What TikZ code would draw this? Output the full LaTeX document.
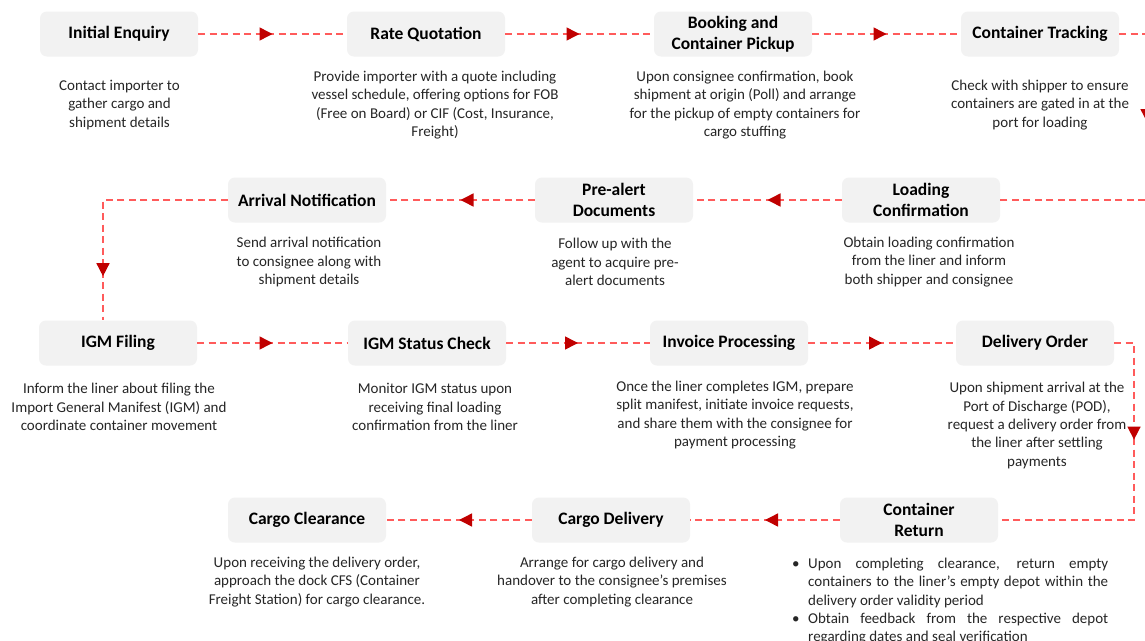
\documentclass[tikz,border=0pt]{standalone}
\usepackage{fontspec}
\setmainfont{Carlito}
\usetikzlibrary{arrows.meta,decorations.markings}
\definecolor{boxgray}{HTML}{F2F2F2}
\definecolor{flowred}{HTML}{FF5B5B}
\definecolor{tipred}{HTML}{C00000}
\definecolor{bodytext}{HTML}{262626}
\begin{document}
\begin{tikzpicture}[x=1pt, y=-1pt,
  stepbox/.style={fill=boxgray, rounded corners=7pt, minimum width=158pt, minimum height=45pt,
    align=center, inner sep=2pt, font=\fontsize{17.5}{21}\selectfont\bfseries},
  desc/.style={align=center, text=bodytext, inner sep=0pt, font=\fontsize{15}{18.3}\selectfont},
  flow/.style={draw=flowred, line width=1.5pt, dash pattern=on 7pt off 4.5pt,
    postaction={decorate}, decoration={markings,
    mark=at position #1 with {\arrow{Triangle[length=13pt,width=13pt,color=tipred]}}}},
  flow/.default=0.5]
  \useasboundingbox (0,0) rectangle (1145,640);
  \clip (0,0) rectangle (1145,640);
  \fill[white] (0,0) rectangle (1145,640);

  \node[stepbox] (enq) at (119,34) {Initial Enquiry};
  \node[stepbox] (rate) at (426,34) {Rate Quotation};
  \node[stepbox] (book) at (733,34) {Booking and\\Container Pickup};
  \node[stepbox] (track) at (1040,34) {Container Tracking};
  \node[desc] (enqd) at (119.5,105) {Contact importer to\\gather cargo and\\shipment details};
  \node[desc] (rated) at (435,105) {Provide importer with a quote including\\vessel schedule, offering options for FOB\\(Free on Board) or CIF (Cost, Insurance,\\Freight)};
  \node[desc] (bookd) at (745,105) {Upon consignee confirmation, book\\shipment at origin (Poll) and arrange\\for the pickup of empty containers for\\cargo stuffing};
  \node[desc] (trackd) at (1040,105) {Check with shipper to ensure\\containers are gated in at the\\port for loading};

  \node[stepbox] (arr) at (307,200) {Arrival Notification};
  \node[stepbox] (pre) at (614,200) {Pre-alert\\Documents};
  \node[stepbox] (load) at (921,200) {Loading\\Confirmation};
  \node[desc] (arrd) at (309,262) {Send arrival notification\\to consignee along with\\shipment details};
  \node[desc] (pred) at (615,262) {Follow up with the\\agent to acquire pre-\\alert documents};
  \node[desc] (loadd) at (929,262) {Obtain loading confirmation\\from the liner and inform\\both shipper and consignee};

  \node[stepbox] (igm) at (118,343) {IGM Filing};
  \node[stepbox] (igmst) at (427,343) {IGM Status Check};
  \node[stepbox] (inv) at (729,343) {Invoice Processing};
  \node[stepbox] (dord) at (1035,343) {Delivery Order};
  \node[desc] (igmd) at (119,407) {Inform the liner about filing the\\Import General Manifest (IGM) and\\coordinate container movement};
  \node[desc] (igmstd) at (435,407) {Monitor IGM status upon\\receiving final loading\\confirmation from the liner};
  \node[desc] (invd) at (735,415) {Once the liner completes IGM, prepare\\split manifest, initiate invoice requests,\\and share them with the consignee for\\payment processing};
  \node[desc] (dordd) at (1037,425.5) {Upon shipment arrival at the\\Port of Discharge (POD),\\request a delivery order from\\the liner after settling\\payments};

  \node[stepbox] (clear) at (307,520) {Cargo Clearance};
  \node[stepbox] (deliv) at (611,520) {Cargo Delivery};
  \node[stepbox] (ret) at (919,520) {Container\\Return};
  \node[desc] (cleard) at (317,582) {Upon receiving the delivery order,\\approach the dock CFS (Container\\Freight Station) for cargo clearance.};
  \node[desc] (delivd) at (612,582) {Arrange for cargo delivery and\\handover to the consignee’s premises\\after completing clearance};
  \node[desc, anchor=north west, text width=316pt, align=justify] (retd) at (792,558)
    {\parindent=0pt\hangindent=16pt\hangafter=1\makebox[16pt][l]{\textbullet}Upon completing clearance, return empty\linebreak containers to the liner’s empty depot within the\linebreak delivery order validity period\par
     \hangindent=16pt\hangafter=1\makebox[16pt][l]{\textbullet}Obtain feedback from the respective depot\linebreak regarding dates and seal verification\par};

  \coordinate (trk) at (1147,34);
  \coordinate (ldk) at (1147,200);
  \coordinate (arrk) at (103,200);
  \coordinate (dork) at (1134,343);
  \coordinate (retk) at (1134,520);

  \draw[flow] (enq) -- (rate);
  \draw[flow] (rate) -- (book);
  \draw[flow] (book) -- (track);
  \draw[flow=0.34] (track.east) -- (trk) -- (ldk) -- (load.east);
  \draw[flow] (load) -- (pre);
  \draw[flow] (pre) -- (arr);
  \draw[flow=0.82] (arr.west) -- (arrk) -- (arrk |- igm.north);
  \draw[flow] (igm) -- (igmst);
  \draw[flow] (igmst) -- (inv);
  \draw[flow] (inv) -- (dord);
  \draw[flow=0.35] (dord.east) -- (dork) -- (retk) -- (ret.east);
  \draw[flow] (ret) -- (deliv);
  \draw[flow] (deliv) -- (clear);
\end{tikzpicture}
\end{document}
